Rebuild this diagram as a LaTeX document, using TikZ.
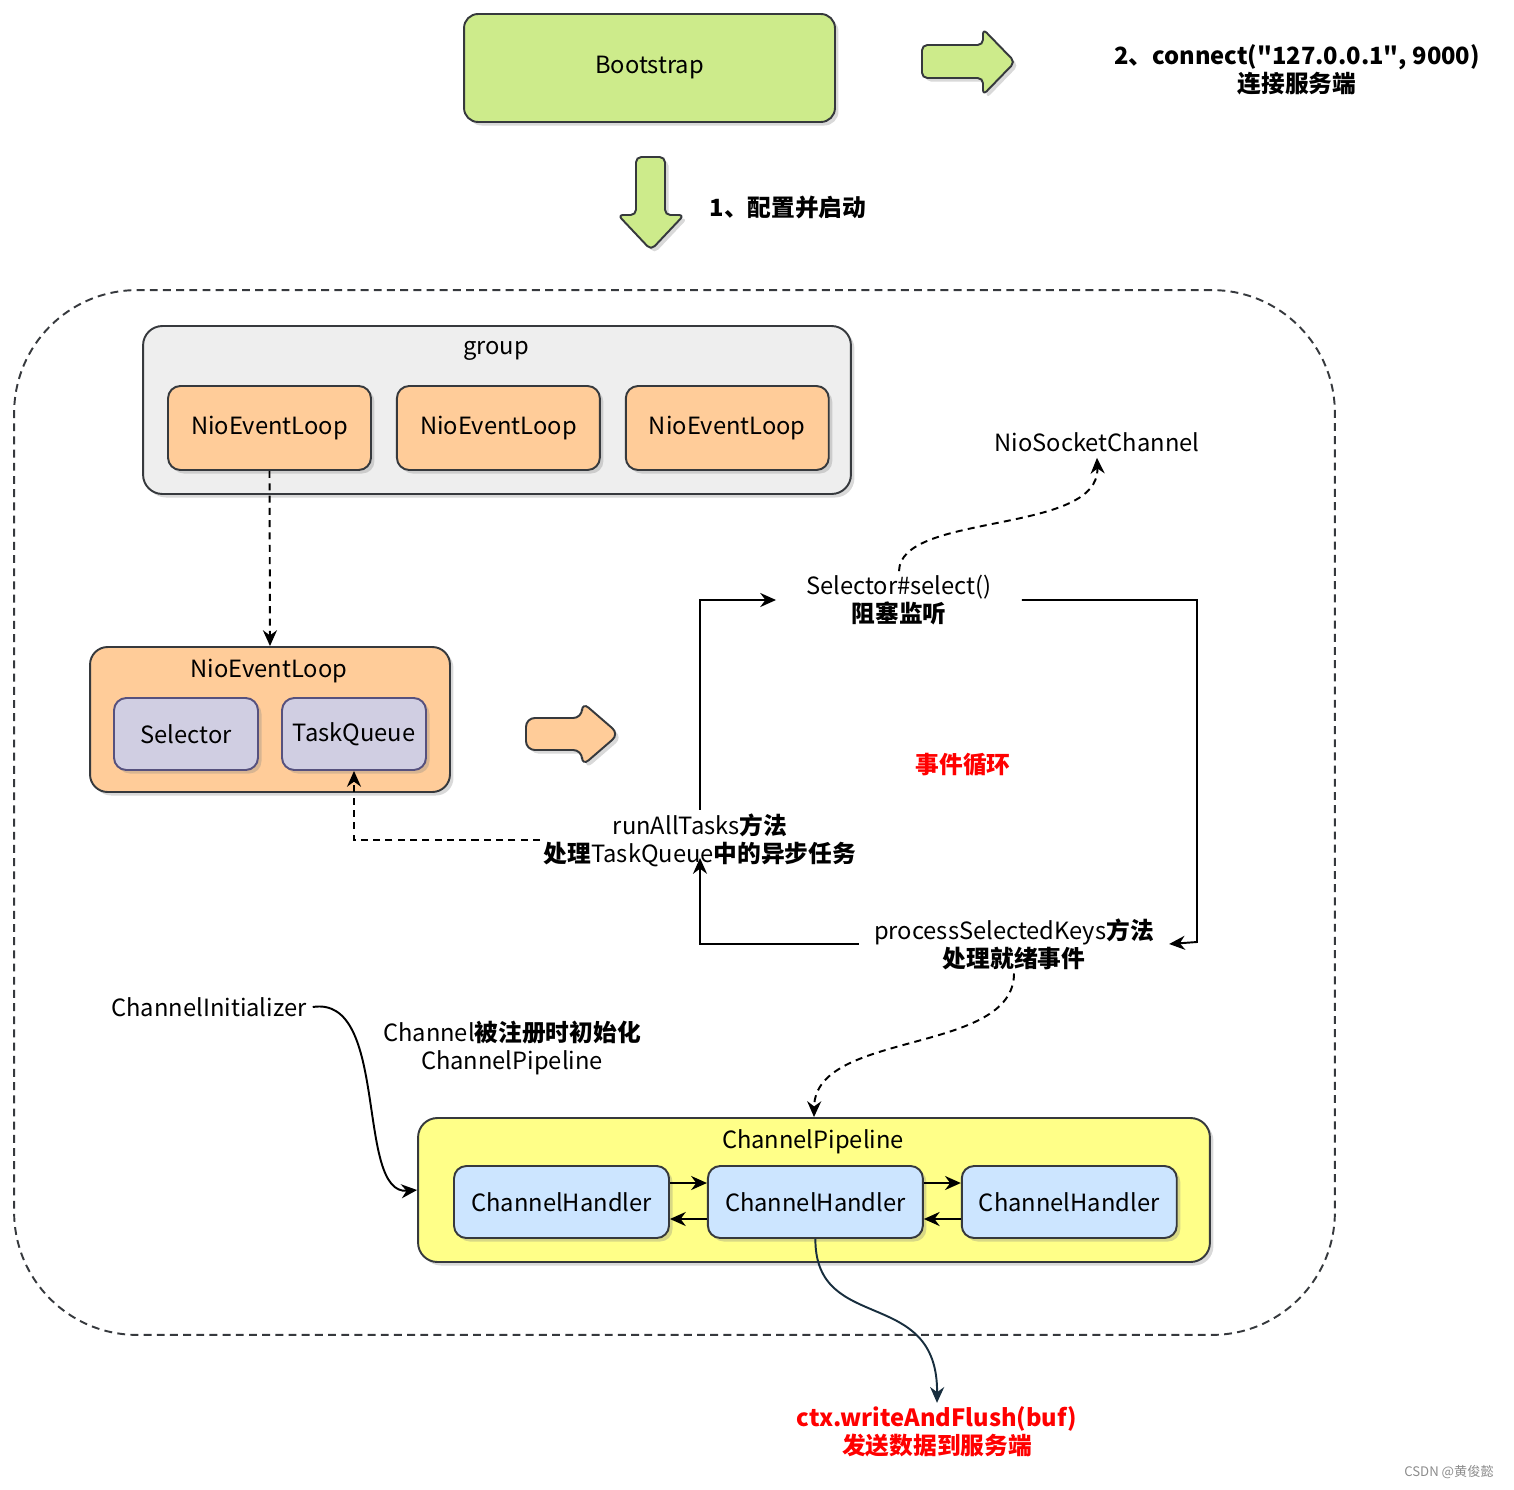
\documentclass[tikz,border=0pt]{standalone}
\usepackage{fontspec}
\setmainfont{Noto Sans CJK SC}
\usepackage{xcolor}
\usetikzlibrary{calc}
\usetikzlibrary{positioning}
\usetikzlibrary{arrows.meta}
\usetikzlibrary{shadows}

\definecolor{lineGray}{HTML}{36393D}
\definecolor{bootGreen}{HTML}{CDEB8B}
\definecolor{groupGray}{HTML}{EEEEEE}
\definecolor{loopOrange}{HTML}{FFCC99}
\definecolor{selPurple}{HTML}{D0CEE2}
\definecolor{selLine}{HTML}{56517E}
\definecolor{pipeYellow}{HTML}{FFFF88}
\definecolor{handlerBlue}{HTML}{CCE5FF}
\definecolor{writeDark}{HTML}{182E3E}

\begin{document}
\begin{tikzpicture}[x=0.02cm, y=-0.02cm,
    font=\fontsize{13.5}{16}\selectfont,
    box/.style={draw=lineGray, line width=1.1pt, rounded corners=7pt,
        drop shadow={shadow xshift=2pt, shadow yshift=-2pt, opacity=.3}},
    blockarrow/.style={draw=lineGray, line width=1.1pt, rounded corners=3pt,
        drop shadow={shadow xshift=2pt, shadow yshift=-2pt, opacity=.3}},
    label/.style={align=center, inner sep=2pt},
    flowarrow/.style={line width=1.1pt, -{Stealth[length=9pt,width=8pt]}},
    dasharrow/.style={line width=1.1pt, dash pattern=on 4pt off 3pt,
        -{Stealth[length=9pt,width=8pt]}}]

    \useasboundingbox (0,0) rectangle (1514,1490);

    \def\g{0.48cm}
    \def\h{0.74cm}

    % Bootstrap and the two big arrows
    \node (boot) [box, fill=bootGreen, rounded corners=8pt,
        minimum width=7.42cm, minimum height=2.16cm] at (649.5,68) {Bootstrap};
    \draw[blockarrow, fill=bootGreen] (922,45) -- (983,45) -- (983,29) -- (1015,62)
        -- (983,95) -- (983,78) -- (922,78) -- cycle;
    \draw[blockarrow, fill=bootGreen] (636,157) -- (665,157) -- (665,215) -- (684,215)
        -- (651,250) -- (618,215) -- (636,215) -- cycle;
    \node (start) [label, font=\fontsize{13.5}{16}\selectfont\bfseries] at (788,208)
        {1、配置并启动};
    \node (connect) [label, font=\fontsize{13.5}{16}\selectfont\bfseries] at (1297,70)
        {2、connect(\textquotedbl127.0.0.1\textquotedbl, 9000)\\连接服务端};

    % dashed frame round the client side
    \node (frame) [draw=lineGray, line width=1.1pt, dash pattern=on 4.5pt off 3pt,
        rounded corners=70pt, minimum width=26.42cm, minimum height=20.9cm]
        at (674.5,812.5) {};

    % group with its event loops
    \node (group) [box, fill=groupGray, rounded corners=11pt,
        minimum width=14.16cm, minimum height=3.36cm] at (497,410) {};
    \node (groupT) at (496,351) {group};
    \node (nel1) [box, fill=loopOrange, minimum width=4.06cm, minimum height=1.68cm]
        at (269.5,428) {NioEventLoop};
    \node (nel2) [box, fill=loopOrange, minimum width=4.06cm, minimum height=1.68cm,
        right=\g of nel1] {NioEventLoop};
    \node (nel3) [box, fill=loopOrange, minimum width=4.06cm, minimum height=1.68cm,
        right=\g of nel2] {NioEventLoop};

    % one event loop opened up
    \node (loop) [box, fill=loopOrange, rounded corners=10pt,
        minimum width=7.2cm, minimum height=2.9cm] at (270,719.5) {};
    \node (loopT) at (269,671) {NioEventLoop};
    \node (sel) [box, draw=selLine, fill=selPurple, minimum width=2.88cm,
        minimum height=1.44cm] at (186,734) {Selector};
    \node (tq) [box, draw=selLine, fill=selPurple, minimum width=2.88cm,
        minimum height=1.44cm] at (354,734) {TaskQueue};
    \draw[blockarrow, fill=loopOrange, rounded corners=5pt] (526,718) -- (582,718)
        -- (582,702) -- (619,734) -- (582,766) -- (582,750) -- (526,750) -- cycle;

    % the event loop itself
    \node (select) [label, inner xsep=0.6cm] at (899,600)
        {Selector\#select()\\\textbf{阻塞监听}};
    \node (process) [label, inner xsep=0.3cm] at (1014,944)
        {processSelectedKeys\textbf{方法}\\\textbf{处理就绪事件}};
    \node (runall) [label] at (700,840)
        {runAllTasks\textbf{方法}\\\textbf{处理}TaskQueue\textbf{中的异步任务}};
    \node (cycle) [text=red, font=\fontsize{13.5}{16}\selectfont\bfseries] at (963,765)
        {事件循环};
    \node (nsc) at (1097,442) {NioSocketChannel};
    \coordinate (loopR) at (1197,942);
    \coordinate (runTip) at (700,858);

    % channel initializer and pipeline
    \node (ci) at (209,1007) {ChannelInitializer};
    \node (init) [label] at (512,1048)
        {Channel\textbf{被注册时初始化}\\ChannelPipeline};
    \node (pipe) [box, fill=pipeYellow, rounded corners=11pt,
        minimum width=15.84cm, minimum height=2.88cm] at (814,1190) {};
    \node (pipeT) at (813,1142) {ChannelPipeline};
    \node (h1) [box, fill=handlerBlue, minimum width=4.3cm, minimum height=1.44cm]
        at (561.5,1202) {ChannelHandler};
    \node (h2) [box, fill=handlerBlue, minimum width=4.3cm, minimum height=1.44cm,
        right=\h of h1] {ChannelHandler};
    \node (h3) [box, fill=handlerBlue, minimum width=4.3cm, minimum height=1.44cm,
        right=\h of h2] {ChannelHandler};

    \node (wf) [label, text=red, font=\fontsize{13.5}{16}\selectfont\bfseries]
        at (937,1432) {ctx.writeAndFlush(buf)\\发送数据到服务端};
    \node (mark) [text=black!45, font=\fontsize{7.5}{9}\selectfont] at (1449,1472)
        {CSDN @黄俊懿};

    % connectors
    \draw[dasharrow] (nel1.south) -- (loop.north);
    \draw[dasharrow] (runall.west) -| (tq.south);
    \draw[dasharrow] (select.north) .. controls (900,512) and (1100,535) .. (nsc.south);
    \draw[dasharrow] (process.south) .. controls (1014,1055) and (815,1030) .. (pipe.north);

    \begin{scope}[flowarrow]
        \draw (runall.north) |- (select.west);
        \draw (select.east) -| (loopR) -- (process.east);
        \draw (process.west) -| (runTip);
        \draw (ci.east) .. controls (390,995) and (355,1195) .. (pipe.west);
    \end{scope}

    \foreach \a/\b in {h1/h2, h2/h3} {
        \draw[flowarrow] ([yshift=0.38cm]\a.east) -- ([yshift=0.38cm]\b.west);
        \draw[flowarrow] ([yshift=-0.34cm]\b.west) -- ([yshift=-0.34cm]\a.east);
    }

    \draw[flowarrow, draw=writeDark] (h2.south)
        .. controls (815,1335) and (938,1285) .. (wf.north);

\end{tikzpicture}
\end{document}
